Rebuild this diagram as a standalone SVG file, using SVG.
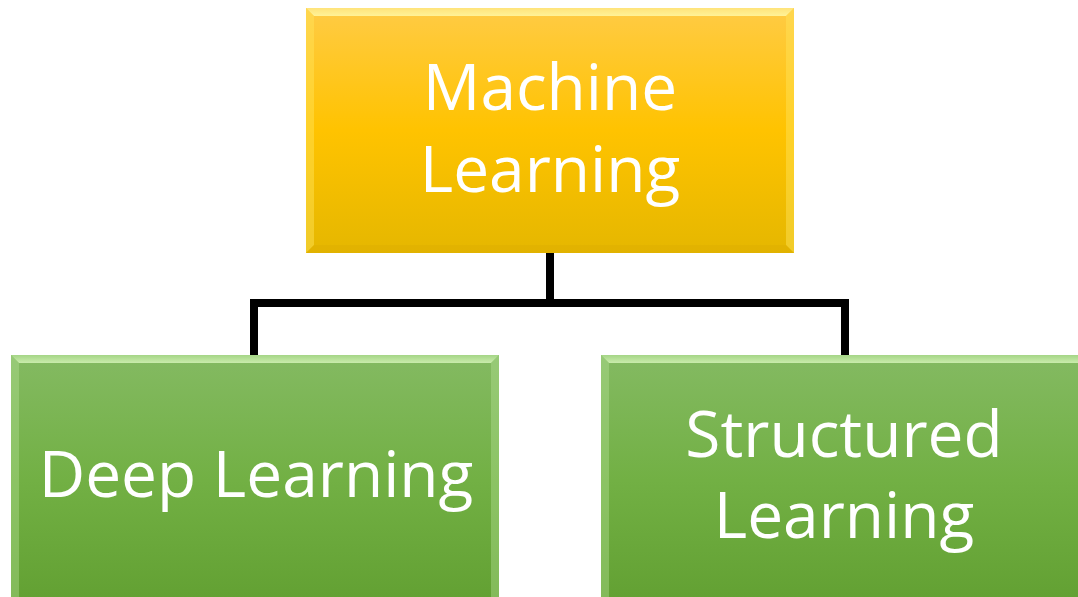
<svg xmlns="http://www.w3.org/2000/svg" width="1078" height="597" viewBox="0 0 1078 597">
  <defs>
    <linearGradient id="gold" x1="0" y1="0" x2="0" y2="1">
      <stop offset="0" stop-color="#FFCB45"/>
      <stop offset="0.5" stop-color="#FFC300"/>
      <stop offset="1" stop-color="#E5B700"/>
    </linearGradient>
    <linearGradient id="green" x1="0" y1="0" x2="0" y2="1">
      <stop offset="0" stop-color="#84BA62"/>
      <stop offset="0.5" stop-color="#72B044"/>
      <stop offset="1" stop-color="#62A032"/>
    </linearGradient>
    <linearGradient id="goldTop" x1="0" y1="0" x2="0" y2="1">
      <stop offset="0" stop-color="#FFE680"/>
      <stop offset="1" stop-color="#FFF7A0"/>
    </linearGradient>
    <linearGradient id="greenTop" x1="0" y1="0" x2="0" y2="1">
      <stop offset="0" stop-color="#A8D88A"/>
      <stop offset="1" stop-color="#D2F2B4"/>
    </linearGradient>
    <style>
      .label { font-family: "Open Sans", "Liberation Sans", sans-serif; font-size: 64px; fill: #FFFFFF; text-anchor: middle; }
      .wire { fill: none; stroke: #000000; stroke-width: 8; stroke-linejoin: miter; stroke-linecap: butt; }
      .gold .hi { fill: url(#goldTop); opacity: 0.9; }
      .gold .side { fill: #FFE45C; opacity: 0.45; }
      .gold .lo { fill: #D9AA00; opacity: 0.35; }
      .green .hi { fill: url(#greenTop); opacity: 0.9; }
      .green .side { fill: #B3E096; opacity: 0.4; }
    </style>
  </defs>

  <rect width="1078" height="597" fill="#FFFFFF"/>

  <!-- connectors -->
  <g id="connectors">
    <path class="wire" d="M550,253 V303 M254,355 V303 H845 V355"/>
  </g>

  <!-- root node -->
  <g id="machine-learning" class="gold">
    <rect x="306" y="8" width="488" height="245" fill="url(#gold)"/>
    <polygon class="hi" points="306,8 794,8 786,16 314,16"/>
    <polygon class="side" points="306,8 314,16 314,245 306,253"/>
    <polygon class="side" points="794,8 794,253 786,245 786,16"/>
    <polygon class="lo" points="306,253 314,245 786,245 794,253"/>
    <text class="label" x="550" y="110">Machine</text>
    <text class="label" x="550" y="192">Learning</text>
  </g>

  <!-- child nodes -->
  <g id="deep-learning" class="green">
    <rect x="11" y="355" width="488" height="250" fill="url(#green)"/>
    <polygon class="hi" points="11,355 499,355 491,363 19,363"/>
    <polygon class="side" points="11,355 19,363 19,605 11,605"/>
    <polygon class="side" points="499,355 499,605 491,605 491,363"/>
    <text class="label" x="256" y="497">Deep Learning</text>
  </g>

  <g id="structured-learning" class="green">
    <rect x="601" y="355" width="488" height="250" fill="url(#green)"/>
    <polygon class="hi" points="601,355 1089,355 1081,363 609,363"/>
    <polygon class="side" points="601,355 609,363 609,605 601,605"/>
    <text class="label" x="844" y="457">Structured</text>
    <text class="label" x="844" y="538">Learning</text>
  </g>
</svg>
